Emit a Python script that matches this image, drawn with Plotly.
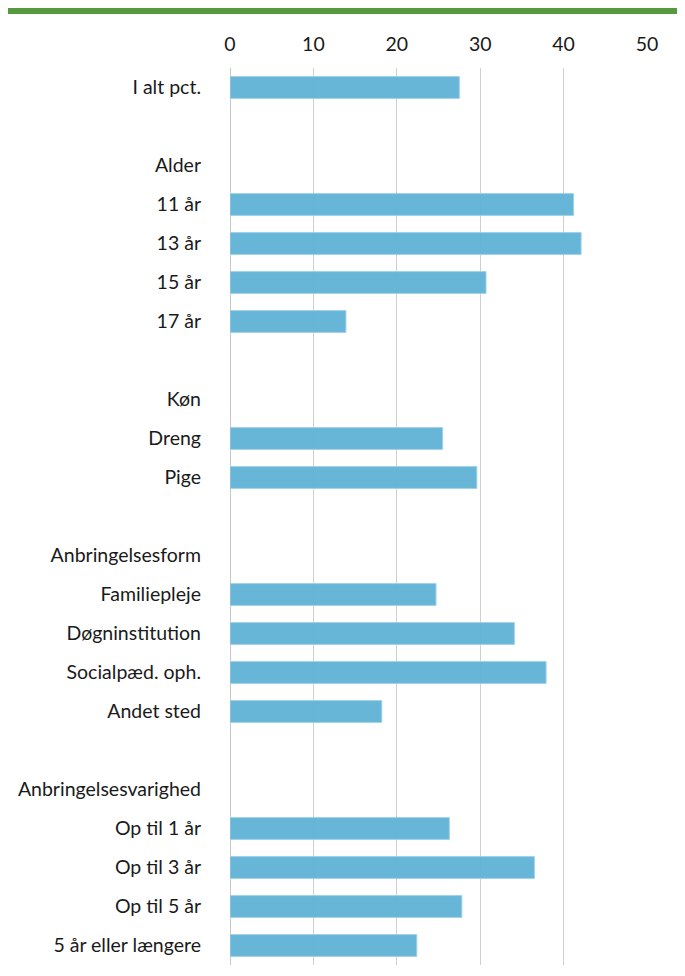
import plotly.graph_objects as go

categories = [
    "I alt pct.", " ", "Alder", "11 år", "13 år", "15 år", "17 år", "  ",
    "Køn", "Dreng", "Pige", "   ", "Anbringelsesform", "Familiepleje",
    "Døgninstitution", "Socialpæd. oph.", "Andet sted", "    ",
    "Anbringelsesvarighed", "Op til 1 år", "Op til 3 år", "Op til 5 år",
    "5 år eller længere",
]
values = [
    27.5, None, None, 41.2, 42.1, 30.7, 13.9, None,
    None, 25.5, 29.6, None, None, 24.7,
    34.1, 37.9, 18.2, None,
    None, 26.3, 36.5, 27.8,
    22.4,
]
x_ticks = [0, 10, 20, 30, 40, 50]

# page body has an 8px margin; figure is placed at (8, 8)
OFF = 8
W, H = 685 - OFF, 976 - OFF
L, R, T, B = 230 - OFF, 38, 68 - OFF, 11
pw, ph = W - L - R, H - T - B

fig = go.Figure(go.Bar(
    x=values, y=categories, orientation="h",
    marker=dict(color="rgba(94,176,213,0.94)", line=dict(color="rgba(160,210,232,1)", width=1)),
    width=0.56,
))

fig.update_layout(
    width=W, height=H,
    margin=dict(l=L, r=R, t=T, b=B),
    paper_bgcolor="white", plot_bgcolor="white",
    showlegend=False,
    font=dict(family="Lato, Open Sans, sans-serif", size=19.5, color="#1a1a1a"),
    xaxis=dict(
        side="top", range=[0, 50], tickvals=x_ticks,
        showgrid=True, gridcolor="#d0d0d0", gridwidth=1,
        zeroline=True, zerolinecolor="#c8c8c8", zerolinewidth=1,
        showline=False, ticks="", ticklabelstandoff=12,
        tickfont=dict(size=19.5),
    ),
    yaxis=dict(
        categoryorder="array", categoryarray=categories,
        autorange="reversed", showgrid=False, ticks="",
        ticklabelstandoff=28, tickfont=dict(size=19.5),
    ),
    shapes=[dict(
        type="line", xref="paper", yref="paper",
        x0=(0 - L) / pw, x1=(W - L) / pw,
        y0=(H - B - 3) / ph, y1=(H - B - 3) / ph,
        line=dict(color="#56993F", width=6),
    )],
)

fig.write_html("out.html")
